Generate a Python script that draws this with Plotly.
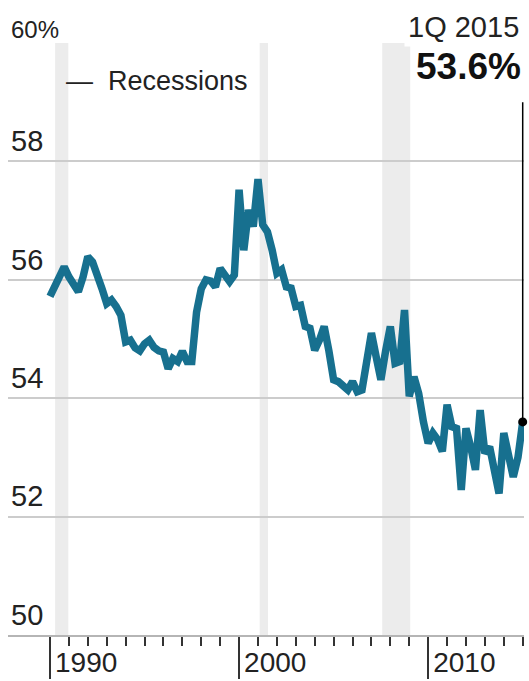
import plotly.graph_objects as go

# Quarterly values, 1Q 1990 .. 1Q 2015 (percent)
values = [
    55.72, 55.90, 56.05, 56.22, 56.05, 55.90, 55.80, 56.05, 56.39, 56.30,
    56.10, 55.85, 55.60, 55.66, 55.55, 55.40, 54.95, 54.98, 54.85, 54.80,
    54.92, 54.98, 54.86, 54.80, 54.78, 54.50, 54.67, 54.62, 54.79, 54.62,
    54.62, 55.45, 55.85, 56.00, 55.98, 55.88, 56.19, 56.05, 55.97, 56.08,
    57.52, 56.50, 57.18, 56.90, 57.70, 56.93, 56.81, 56.50, 56.11, 56.17,
    55.88, 55.86, 55.55, 55.57, 55.21, 55.18, 54.81, 54.98, 55.21, 54.80,
    54.31, 54.28, 54.20, 54.14, 54.28, 54.11, 54.14, 54.60, 55.10, 54.70,
    54.31, 54.80, 55.21, 54.59, 54.62, 55.49, 54.03, 54.36, 54.08, 53.60,
    53.24, 53.41, 53.30, 53.10, 53.89, 53.52, 53.49, 52.45, 53.49, 53.18,
    52.79, 53.80, 53.07, 53.18, 52.80, 52.39, 53.41, 52.96, 52.67, 53.00,
    53.60,
]
start_year = 1990
dates = [start_year + 0.25 * i for i in range(len(values))]

recessions = [(1990.27, 1990.97), (2001.09, 2001.53), (2007.57, 2009.05)]

y_ticks = [50, 52, 54, 56, 58, 60]
y_labels = ["50", "52", "54", "56", "58",
            "<span style='font-size:24px;baseline-shift:-5px'>60%</span>"]
x_major = [1990, 2000, 2010]
x_minor = [y for y in range(1991, 2016) if y not in (2000, 2010)]

last_label = "1Q 2015"
last_value_text = "53.6%"

FONT = "Liberation Sans, Arial, sans-serif"
LINE = "#17708f"
TXT = "#222222"

fig = go.Figure()
fig.add_trace(go.Scatter(
    x=dates, y=values, mode="lines",
    line=dict(color=LINE, width=7.5), cliponaxis=False, hoverinfo="skip",
))
fig.add_trace(go.Scatter(
    x=[dates[-1]], y=[values[-1]], mode="markers",
    marker=dict(color="#000000", size=9), cliponaxis=False, hoverinfo="skip",
))

for a, b in recessions:
    fig.add_shape(type="rect", xref="x", yref="paper", x0=a, x1=b, y0=0, y1=1,
                  fillcolor="#ececec", line=dict(width=0), layer="below")

fig.add_shape(type="line", xref="x", yref="y", x0=dates[-1], x1=dates[-1],
              y0=values[-1], y1=59.0, line=dict(color="#000000", width=1.5))

fig.add_annotation(xref="x", yref="paper", x=dates[-1], y=1.027, xanchor="right",
                   yanchor="middle", text=last_label, showarrow=False,
                   font=dict(family=FONT, size=29, color=TXT), bgcolor="#ffffff",
                   borderpad=3)
fig.add_annotation(xref="x", yref="paper", x=dates[-1], y=0.961, xanchor="right",
                   yanchor="middle", text="<b>" + last_value_text + "</b>", showarrow=False,
                   font=dict(family=FONT, size=37, color="#111111"))
fig.add_annotation(xref="paper", yref="paper", x=0.108, y=0.936, xanchor="left",
                   yanchor="middle", text="—\u00a0 Recessions", showarrow=False,
                   font=dict(family=FONT, size=27, color=TXT))

L, R, T, B = 8, 5, 43, 46
px_per_year = 18.908
x0_px = 50  # pixel of start_year relative to page
xmin = start_year + (L - x0_px) / px_per_year
xmax = start_year + ((529 - R) - x0_px) / px_per_year

fig.update_layout(
    width=529, height=681,
    margin=dict(l=L, r=R, t=T, b=B, autoexpand=False),
    paper_bgcolor="#ffffff", plot_bgcolor="#ffffff",
    showlegend=False,
    font=dict(family=FONT, color=TXT),
    xaxis=dict(
        range=[xmin, xmax], showgrid=False, zeroline=False, automargin=False,
        showline=True, linecolor="#b5b5b5", linewidth=2,
        tickmode="array", tickvals=x_major, ticktext=[str(v) for v in x_major],
        ticks="outside", ticklen=42, tickwidth=2, tickcolor="#333333",
        ticklabelposition="outside right", ticklabelstandoff=1, ticklabelshift=3,
        tickfont=dict(family=FONT, size=28, color=TXT),
        minor=dict(tickmode="array", tickvals=x_minor, ticks="outside",
                   ticklen=9, tickwidth=2, tickcolor="#333333", showgrid=False),
    ),
    yaxis=dict(
        range=[50, 60], showgrid=True, gridcolor="#cccccc", gridwidth=1.5,
        zeroline=False, showline=False, automargin=False,
        tickmode="array", tickvals=y_ticks, ticktext=y_labels,
        ticks="", ticklabelposition="inside top", ticklabeloverflow="allow",
        tickfont=dict(family=FONT, size=29, color=TXT),
    ),
)

fig.write_html("out.html")
